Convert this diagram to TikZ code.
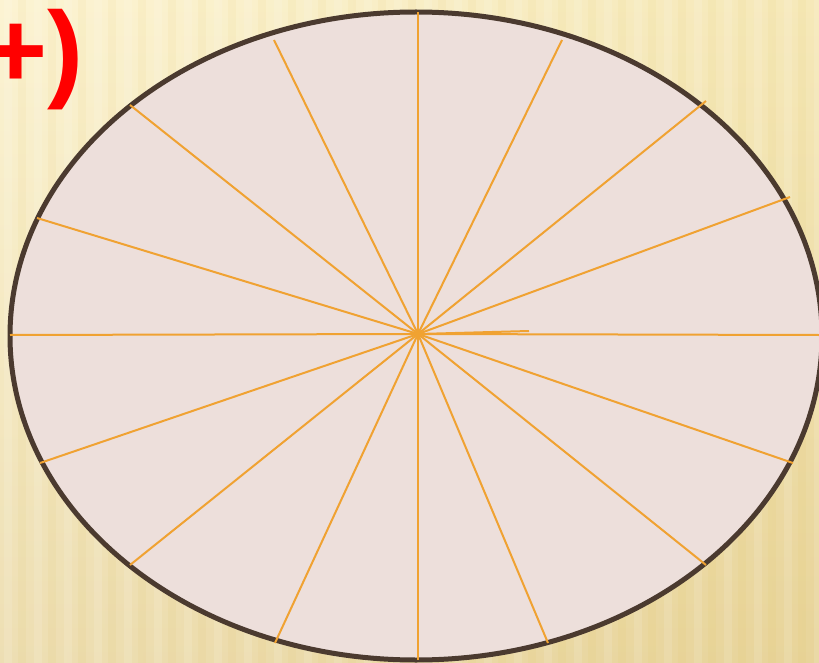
\documentclass[tikz,border=0pt]{standalone}
\usepackage{fontspec}
\setmainfont{Liberation Sans}
\usetikzlibrary{shapes.geometric}
\begin{document}
\begin{tikzpicture}[x=1pt,y=-1pt,
  ray/.style={draw=rayc, line width=2pt},
  stripe/.style={fill=white, opacity=0.12},
  dstripe/.style={fill=brown!60!yellow, opacity=0.05}]
\definecolor{bgtop}{HTML}{FBF0C4}
\definecolor{bgbot}{HTML}{E8D49A}
\definecolor{rayc}{HTML}{F0A232}
\definecolor{ellfill}{HTML}{EDDFDB}
\definecolor{ellline}{HTML}{4B3A2F}
\useasboundingbox (0,0) rectangle (819,663);
\clip (0,0) rectangle (819,663);
\shade[top color=bgtop, bottom color=bgbot] (0,0) rectangle (819,663);
\shade[left color=white, right color=bgbot, opacity=0.25] (0,0) rectangle (819,663);
\foreach \i in {0,...,27}{
  \fill[stripe] (\i*30+4,0) rectangle (\i*30+12,663);
  \fill[dstripe] (\i*30+18,0) rectangle (\i*30+26,663);
}
\node[font=\bfseries\fontsize{108}{108}\selectfont, text=red, inner sep=0, anchor=base east] (lbl) at (84,88) {+)};
\node[draw=ellline, fill=ellfill, line width=5pt, ellipse, minimum width=812pt, minimum height=648pt, inner sep=0] (E) at (416,336) {};
\coordinate (C) at (418,334);
\foreach \p in {(418,12),(274,40),(130,105),(37,218),(10,335),(40,463),(130,565),(275,643),(418,660),(548,643),(706,565),(793,463),(819,335),(790,197),(706,101),(562,40)}{
  \draw[ray] (C) -- \p;
}
\coordinate (S) at (529,331);
\draw[ray] (C) -- (S);
\end{tikzpicture}
\end{document}
